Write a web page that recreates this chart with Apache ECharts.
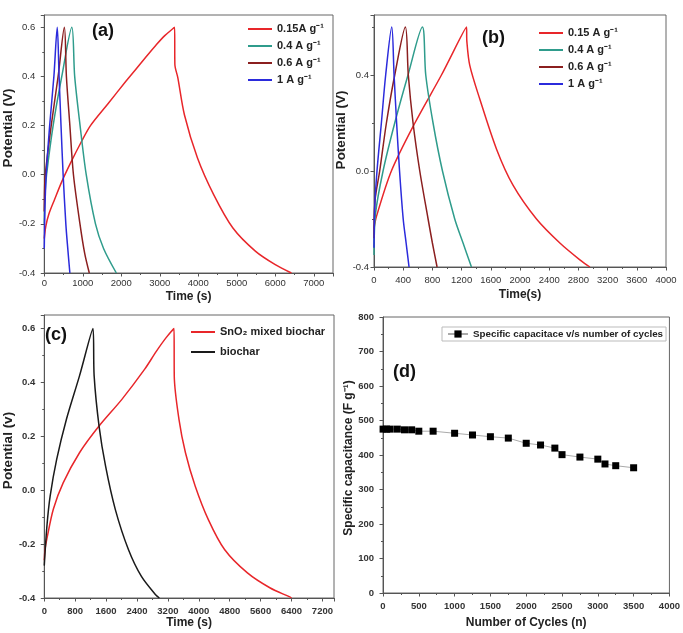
<!DOCTYPE html>
<html><head><meta charset="utf-8">
<script src="https://cdn.jsdelivr.net/npm/echarts/dist/echarts.min.js"></script>
<style>html,body{margin:0;padding:0;background:#fff}#c{width:683px;height:633px}</style>
</head><body><div id="c"></div>
<script>
// ---------- Panel (a) ----------
const aTime015 = [0, 40, 120, 270, 450, 690, 950, 1200, 1650, 2120, 2630, 2900, 3130, 3386, 3392, 3470, 3640, 3980, 4400, 4900, 5490, 6000, 6420];
const aPot015  = [-0.26, -0.21, -0.16, -0.1, -0.03, 0.05, 0.13, 0.2, 0.288, 0.38, 0.477, 0.527, 0.566, 0.6, 0.45, 0.394, 0.244, 0.068, -0.081, -0.217, -0.312, -0.366, -0.4];
const aTime04  = [0, 20, 60, 230, 455, 716, 790, 930, 1090, 1330, 1540, 1872];
const aPot04   = [-0.2, -0.08, 0.0, 0.2, 0.4, 0.6, 0.4, 0.2, 0.0, -0.2, -0.3, -0.4];
const aTime06  = [0, 8, 25, 180, 360, 522, 575, 665, 758, 927, 1050, 1170];
const aPot06   = [-0.15, -0.06, 0.0, 0.2, 0.4, 0.6, 0.4, 0.2, 0.0, -0.2, -0.32, -0.4];
const aTime1   = [0, 15, 50, 140, 250, 337, 385, 435, 490, 560, 610, 665];
const aPot1    = [-0.3, -0.15, 0.0, 0.2, 0.4, 0.6, 0.4, 0.2, 0.0, -0.2, -0.3, -0.4];
// ---------- Panel (b) ----------
const bTime015 = [0, 33, 238, 560, 924, 1267, 1272, 1312, 1449, 1680, 1906, 2226, 2546, 2820, 2958];
const bPot015  = [-0.24, -0.19, 0.0, 0.2, 0.4, 0.6, 0.54, 0.44, 0.3, 0.09, -0.06, -0.2, -0.3, -0.37, -0.4];
const bTime04  = [0, 20, 124, 284, 466, 663, 709, 809, 938, 1106, 1220, 1335];
const bPot04   = [-0.35, -0.18, 0.0, 0.2, 0.4, 0.6, 0.4, 0.2, 0.0, -0.2, -0.3, -0.4];
const bTime06  = [0, 15, 78, 170, 284, 430, 470, 535, 627, 741, 800, 864];
const bPot06   = [-0.28, -0.12, 0.0, 0.2, 0.4, 0.6, 0.4, 0.2, 0.0, -0.2, -0.3, -0.4];
const bTime1   = [0, 10, 41, 101, 160, 243, 275, 310, 350, 400, 440, 480];
const bPot1    = [-0.32, -0.15, 0.0, 0.2, 0.4, 0.6, 0.4, 0.2, 0.0, -0.2, -0.3, -0.4];
// ---------- Panel (c) ----------
const cTimeSnO2 = [0, 20, 68, 236, 489, 912, 1418, 2009, 2600, 2900, 3150, 3360, 3365, 3487, 3655, 3908, 4247, 4667, 5259, 5850, 6356, 6400];
const cPotSnO2  = [-0.26, -0.22, -0.18, -0.07, 0.027, 0.139, 0.238, 0.337, 0.449, 0.515, 0.565, 0.6, 0.424, 0.263, 0.139, 0.015, -0.109, -0.22, -0.307, -0.363, -0.396, -0.4];
const cTimeBio  = [0, 68, 152, 321, 574, 912, 1260, 1291, 1418, 1587, 1840, 2178, 2515, 2895, 2980];
const cPotBio   = [-0.28, -0.134, -0.022, 0.114, 0.263, 0.424, 0.6, 0.424, 0.238, 0.089, -0.072, -0.22, -0.32, -0.39, -0.4];
// ---------- Panel (d) ----------
const dCycles = [1, 50, 100, 200, 300, 400, 500, 700, 1000, 1250, 1500, 1750, 2000, 2200, 2400, 2500, 2750, 3000, 3100, 3250, 3500];
const dCapac  = [475, 475, 475, 475, 473, 473, 469, 469, 463, 458, 453, 449, 434, 429, 420, 401, 394, 388, 374, 369, 363];

const namesA = ['0.15A g\u207B\u00B9', '0.4 A g\u207B\u00B9', '0.6 A g\u207B\u00B9', '1 A g\u207B\u00B9'];
const namesB = ['0.15 A g\u207B\u00B9', '0.4 A g\u207B\u00B9', '0.6 A g\u207B\u00B9', '1 A g\u207B\u00B9'];
const namesC = ['SnO\u2082 mixed biochar', 'biochar'];
const nameD = 'Specific capacitace v/s number of cycles';

const RED = '#e8262a', TEAL = '#2f9c8c', DRED = '#8b1f1f', BLUE = '#2b2bdc', BLACK = '#1a1a1a';
const SANS = '"Liberation Sans",Arial,sans-serif';
const AXC = '#555';

const pts = (xs, ys) => xs.map((x, i) => [x, ys[i]]);
const fmt1 = v => (Math.abs(v) < 1e-9 ? 0 : v).toFixed(1);
const fmt0 = v => String(Math.round(v));

function xAx(g, max, interval, name, gap, margin, bold) {
  return {
    type: 'value', gridIndex: g, min: 0, max: max, interval: interval,
    name: name, nameLocation: 'middle', nameGap: gap,
    nameTextStyle: { fontFamily: SANS, fontWeight: 'bold', fontSize: 12, color: '#222' },
    axisLine: { show: true, onZero: false, lineStyle: { color: AXC, width: 1 } },
    axisTick: { show: true, length: 3.5, lineStyle: { color: AXC } },
    minorTick: { show: true, splitNumber: 2, length: 2, lineStyle: { color: AXC } },
    splitLine: { show: false },
    axisLabel: { margin: margin, showMaxLabel: (max % interval === 0), fontFamily: SANS, fontSize: 9.5,
      fontWeight: bold ? 'bold' : 'normal', color: '#333', formatter: fmt0 }
  };
}
function yAx(g, min, max, interval, name, gap, margin, bold, shift, fmt, nameSize) {
  return {
    type: 'value', gridIndex: g, min: min, max: max, interval: interval,
    name: name, nameLocation: 'middle', nameGap: gap, nameRotate: 90,
    nameTextStyle: { fontFamily: SANS, fontWeight: 'bold', fontSize: nameSize, color: '#222',
      padding: shift > 0 ? [0, 0, 0, shift] : [0, -shift, 0, 0] },
    axisLine: { show: true, onZero: false, lineStyle: { color: AXC, width: 1 } },
    axisTick: { show: true, length: 3.5, lineStyle: { color: AXC } },
    minorTick: { show: true, splitNumber: 2, length: 2, lineStyle: { color: AXC } },
    splitLine: { show: false },
    axisLabel: { margin: margin, showMaxLabel: (Math.abs(max / interval - Math.round(max / interval)) < 1e-9),
      fontFamily: SANS, fontSize: 9.5, fontWeight: bold ? 'bold' : 'normal', color: '#333', formatter: fmt }
  };
}
function line(name, xi, xs, ys, color) {
  return { type: 'line', name: name, xAxisIndex: xi, yAxisIndex: xi, data: pts(xs, ys),
    symbol: 'none', showSymbol: false, smooth: 0.3, lineStyle: { width: 1.5, color: color }, itemStyle: { color: color }, z: 3 };
}
const legendText = { fontFamily: SANS, fontWeight: 'bold', fontSize: 11, color: '#222', lineHeight: 14 };
const lineLegend = (names, left, top, gap) => ({
  data: names.map(n => ({ name: n, icon: 'rect' })), orient: 'vertical', left: left, top: top, padding: 0,
  itemWidth: 24, itemHeight: 2, itemGap: gap, textStyle: legendText
});
const panelTitle = (t, l, tp) => ({ text: t, left: l, top: tp, padding: 0,
  textStyle: { fontFamily: SANS, fontWeight: 'bold', fontSize: 18, color: '#111' } });

const chart = echarts.init(document.getElementById('c'), null, { renderer: 'canvas' });
chart.setOption({
  animation: false,
  backgroundColor: '#fff',
  title: [panelTitle('(a)', 92, 22), panelTitle('(b)', 482, 29), panelTitle('(c)', 45, 326), panelTitle('(d)', 393, 363)],
  grid: [
    { left: 36, top: 15, width: 297, height: 258, show: true, borderColor: '#666', borderWidth: 1 },
    { left: 374, top: 15, width: 292, height: 252, show: true, borderColor: '#666', borderWidth: 1 },
    { left: 39, top: 315, width: 295, height: 283, show: true, borderColor: '#666', borderWidth: 1 },
    { left: 383, top: 317, width: 289, height: 276, show: true, borderColor: '#666', borderWidth: 1 }
  ],
  xAxis: [
    xAx(0, 7500, 1000, 'Time (s)', 18, 5, false),
    xAx(1, 4000, 400, 'Time(s)', 22, 8, false),
    xAx(2, 7500, 800, 'Time (s)', 19, 8, true),
    xAx(3, 4000, 500, 'Number of Cycles (n)', 24, 8, true)
  ],
  yAxis: [
    yAx(0, -0.4, 0.65, 0.2, 'Potential (V)', 20, 9, false, 32, fmt1, 13.5),
    yAx(1, -0.4, 0.65, 0.4, 'Potential (V)', 20, 5, false, 22, fmt1, 13.5),
    yAx(2, -0.4, 0.65, 0.2, 'Potential (v)', 20, 9, true, 12, fmt1, 13.5),
    yAx(3, 0, 800, 100, 'Specific capacitance (F g\u207B\u00B9)', 24, 9, true, -6, fmt0, 12)
  ],
  legend: [
    lineLegend(namesA, 248, 22, 3),
    lineLegend(namesB, 539, 26, 3),
    lineLegend(namesC, 191, 325, 6),
    { data: [nameD], left: 442, top: 327, padding: [2, 3, 2, 5], itemWidth: 20, itemHeight: 9, borderColor: '#bbb', borderWidth: 1,
      textStyle: { fontFamily: SANS, fontWeight: 'bold', fontSize: 9.8, color: '#222' } }
  ],
  series: [
    line(namesA[0], 0, aTime015, aPot015, RED),
    line(namesA[1], 0, aTime04, aPot04, TEAL),
    line(namesA[2], 0, aTime06, aPot06, DRED),
    line(namesA[3], 0, aTime1, aPot1, BLUE),
    line(namesB[0], 1, bTime015, bPot015, RED),
    line(namesB[1], 1, bTime04, bPot04, TEAL),
    line(namesB[2], 1, bTime06, bPot06, DRED),
    line(namesB[3], 1, bTime1, bPot1, BLUE),
    line(namesC[0], 2, cTimeSnO2, cPotSnO2, RED),
    line(namesC[1], 2, cTimeBio, cPotBio, BLACK),
    { type: 'line', name: nameD, xAxisIndex: 3, yAxisIndex: 3, data: pts(dCycles, dCapac),
      symbol: 'rect', symbolSize: 7, showSymbol: true, lineStyle: { width: 1, color: '#aaa' }, itemStyle: { color: '#000' }, z: 3 }
  ]
});
</script></body></html>
